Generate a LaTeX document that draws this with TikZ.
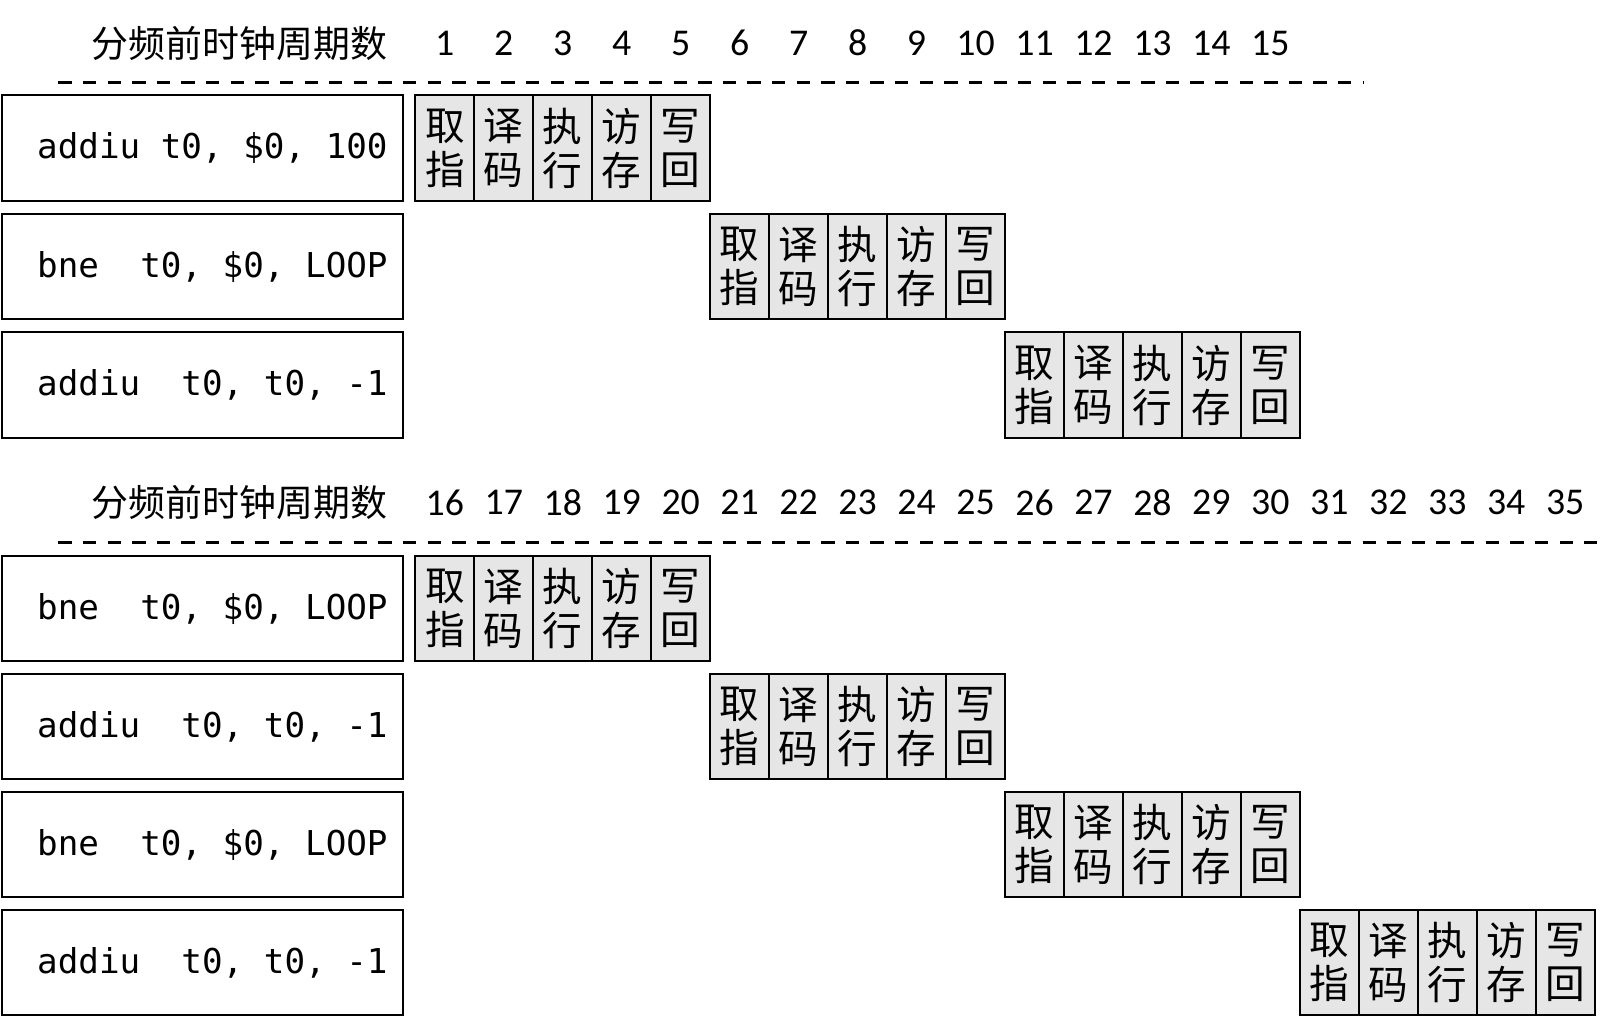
\documentclass[tikz,border=0pt]{standalone}
\usepackage{fontspec}
\setmainfont{Carlito}
\newfontfamily\codefont{DejaVu Sans Mono}
\newfontfamily\cjk{Noto Sans CJK SC}
\newcommand\gap{\hspace*{0.602em}}
\usetikzlibrary{positioning}
\definecolor{stagegray}{RGB}{230,230,230}

\begin{document}
\begin{tikzpicture}[
  x=0.02cm, y=-0.02cm,
  instr/.style={draw, line width=1.1pt, text width=7.22cm,
    inner xsep=0.3cm, inner ysep=0pt, minimum height=2.06cm,
    align=right, font=\codefont\fontsize{19}{22}\selectfont},
  stage/.style={draw, line width=1.1pt, fill=stagegray,
    minimum width=1.15cm, minimum height=2.06cm, inner sep=0pt,
    align=center, font=\cjk\fontsize{22}{24.5}\selectfont},
  cyc/.style={font=\fontsize{21}{24}\selectfont},
  title/.style={anchor=east, inner xsep=0pt,
    font=\cjk\fontsize{20.5}{24}\selectfont},
  sep/.style={line width=1.7pt, dash pattern=on 0.26cm off 0.22cm}
]
\useasboundingbox (0,0) rectangle (1568,1005);

% First header: cycles 1-15
\node[title] (hdrA) at (378,42) {分频前时钟周期数};
\foreach \k in {1,...,15}
  \node[cyc] (cA\k) at ({405+57.5*(\k-0.5)},42) {\k};
\coordinate (sepAl) at (57,80);
\coordinate (sepAr) at (1330,80);
\draw[sep] (sepAl) -- (sepAr);

% Second header: cycles 16-35
\node[title] (hdrB) at (378,490) {分频前时钟周期数};
\foreach \k in {1,...,20}{
  \pgfmathtruncatemacro\num{\k+15}
  \node[cyc] (cB\k) at ({405+57.5*(\k-0.5)},490) {\num};
}
\coordinate (sepBl) at (57,529);
\coordinate (sepBr) at (1557,529);
\draw[sep] (sepBl) -- (sepBr);

% Instructions and their pipeline stages
\foreach \ins/\y/\c [count=\r] in {
    {addiu\gap t0,\gap\$0,\gap 100}/144.5/0,
    {bne\gap\gap t0,\gap\$0,\gap LOOP}/260/5,
    {addiu\gap\gap t0,\gap t0,\gap -1}/375.5/10,
    {bne\gap\gap t0,\gap\$0,\gap LOOP}/593.5/0,
    {addiu\gap\gap t0,\gap t0,\gap -1}/708.5/5,
    {bne\gap\gap t0,\gap\$0,\gap LOOP}/823.5/10,
    {addiu\gap\gap t0,\gap t0,\gap -1}/938.5/15}{
  \node[instr] (ins\r) at (197.5,\y) {\ins};
  \foreach \st [count=\j] in {{取\\指},{译\\码},{执\\行},{访\\存},{写\\回}}
    \node[stage] (st\r-\j) at ({405+57.5*(\c+\j-0.5)},\y) {\st};
}
\end{tikzpicture}
\end{document}
